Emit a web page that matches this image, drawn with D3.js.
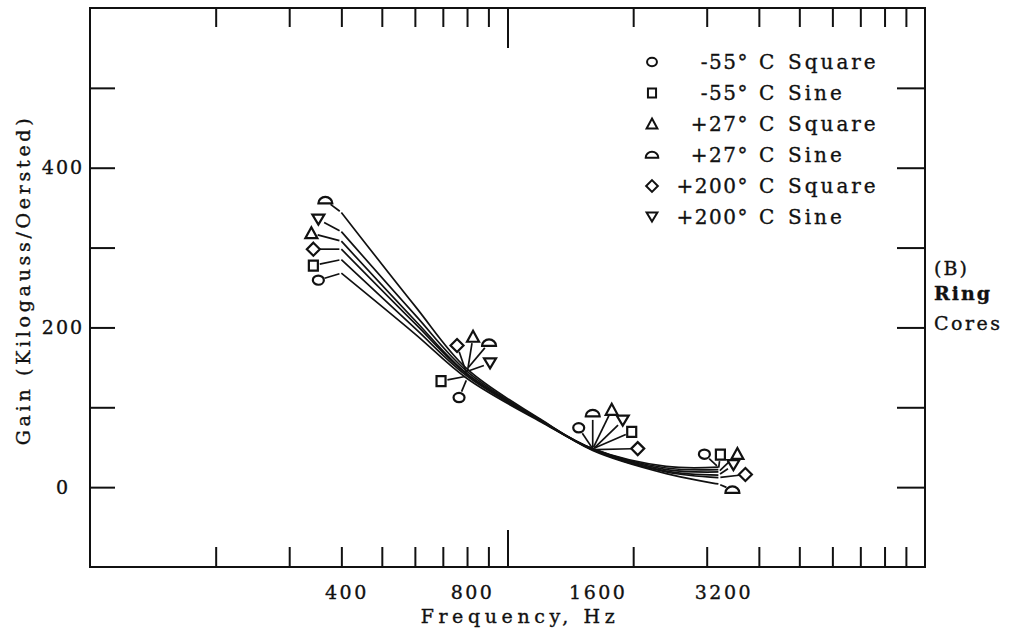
<!DOCTYPE html>
<html>
<head>
<meta charset="utf-8">
<script src="https://cdn.jsdelivr.net/npm/d3@7"></script>
<style>
  body { margin: 0; background: #fff; }
  svg { display: block; }
  text { font-family: "DejaVu Serif", "Liberation Serif", serif; fill: #111; stroke: #111; stroke-width: 0.35px; }
</style>
</head>
<body>
<svg id="chart" width="1024" height="635"></svg>
<script>
// ---------------- data ----------------
const frequencies = [400, 600, 800, 1200, 1600, 2400, 3200];
const flagFrequencies = [400, 800, 1600, 3200];

const seriesNames = ["-55° C Square", "-55° C Sine", "+27° C Square", "+27° C Sine", "+200° C Square", "+200° C Sine"];
const legendTemps = ["-55°", "-55°", "+27°", "+27°", "+200°", "+200°"];
const legendKinds = ["Square", "Sine", "Square", "Sine", "Square", "Sine"];
const seriesSymbols = ["circle", "square", "triUp", "dome", "diamond", "triDown"];

const gainM55Square  = [268, 192, 136, 82, 48, 26, 25];
const gainM55Sine    = [285, 199, 139, 83, 48, 24, 22];
const gainP27Square  = [308, 209, 142, 84, 48, 22, 19];
const gainP27Sine    = [344, 227, 148, 85, 46, 17, 4];
const gainP200Square = [298, 205, 141, 83, 47, 19, 12];
const gainP200Sine   = [320, 216, 145, 84, 47, 20, 15];
const seriesValues = [gainM55Square, gainM55Sine, gainP27Square, gainP27Sine, gainP200Square, gainP200Sine];

const xLabelTicks = [400, 800, 1600, 3200];
const xMinorTicks = [200, 300, 400, 500, 600, 700, 800, 900, 2000, 3000, 4000, 5000, 6000, 7000, 8000, 9000];
const xMajorTicks = [1000];
const yTicks = [0, 100, 200, 300, 400, 500];
const yLabelTicks = [0, 200, 400];

// ---------------- layout (pixel offsets of the flag symbols, not data) ----------------
// per series, per flag frequency: [dx, dy]
const flagOffsets = [
  [[-23, 7], [-8, 19], [-14, -21], [-14, -13]],   // -55 Square
  [[-28, 6], [-26, 5], [39, -17], [2, -15]],      // -55 Sine
  [[-30, -8], [6, -37], [19, -39], [19, -18]],    // +27 Square
  [[-16, -12], [22, -26], [0, -37], [14, 6]],     // +27 Sine
  [[-28, 0], [-10, -29], [45, -1], [27, -3]],     // +200 Square
  [[-23, -12], [23, -8], [30, -29], [15, -10]]    // +200 Sine
];

const margin = { left: 90, right: 925, top: 8, bottom: 567 };
const svg = d3.select("#chart");

const x = d3.scaleLog().domain([100, 10000]).range([margin.left, margin.right]);
const y = d3.scaleLinear().domain([-100, 600]).range([margin.bottom, margin.top]);

// ---------------- symbols ----------------
function symbolPath(kind, s) {
  s = s || 1;
  switch (kind) {
    case "circle": return `M${-5.5*s},0 A${5.5*s},${4.6*s} 0 1 0 ${5.5*s},0 A${5.5*s},${4.6*s} 0 1 0 ${-5.5*s},0 Z`;
    case "square": return `M${-4.5*s},${-5*s} H${4.5*s} V${5*s} H${-4.5*s} Z`;
    case "triUp": return `M0,${-6*s} L${6*s},${5*s} L${-6*s},${5*s} Z`;
    case "triDown": return `M0,${5*s} L${6*s},${-5*s} L${-6*s},${-5*s} Z`;
    case "diamond": return `M0,${-6.5*s} L${6.5*s},0 L0,${6.5*s} L${-6.5*s},0 Z`;
    case "dome": return `M${-7*s},${3*s} A${7*s},${6.5*s} 0 0 1 ${7*s},${3*s} Z`;
  }
}

// ---------------- frame ----------------
svg.append("rect")
  .attr("x", margin.left).attr("y", margin.top)
  .attr("width", margin.right - margin.left).attr("height", margin.bottom - margin.top)
  .attr("fill", "none").attr("stroke", "#111").attr("stroke-width", 2);

function styleAxis(g) {
  g.select(".domain").remove();
  g.selectAll(".tick line").attr("stroke", "#111").attr("stroke-width", 2);
}

// bottom inward ticks
svg.append("g").attr("transform", `translate(0,${margin.bottom})`)
  .call(d3.axisTop(x).tickValues(xMinorTicks).tickSize(20).tickFormat(""))
  .call(styleAxis);
svg.append("g").attr("transform", `translate(0,${margin.bottom})`)
  .call(d3.axisTop(x).tickValues(xMajorTicks).tickSize(37).tickFormat(""))
  .call(styleAxis);
// top inward ticks
svg.append("g").attr("transform", `translate(0,${margin.top})`)
  .call(d3.axisBottom(x).tickValues(xMinorTicks).tickSize(19).tickFormat(""))
  .call(styleAxis);
svg.append("g").attr("transform", `translate(0,${margin.top})`)
  .call(d3.axisBottom(x).tickValues(xMajorTicks).tickSize(40).tickFormat(""))
  .call(styleAxis);
// x labels
const xl = svg.append("g").attr("transform", `translate(0,${margin.bottom})`)
  .call(d3.axisBottom(x).tickValues(xLabelTicks).tickSize(0).tickPadding(19).tickFormat(d3.format("d")))
  .call(styleAxis);
xl.selectAll("text").attr("font-size", 19).attr("letter-spacing", 2.5)
  .attr("font-family", "DejaVu Serif").attr("fill", "#111").attr("dx", 5);

// left ticks
svg.append("g").attr("transform", `translate(${margin.left},0)`)
  .call(d3.axisRight(y).tickValues(yTicks).tickSize(25).tickFormat(""))
  .call(styleAxis);
// right ticks
svg.append("g").attr("transform", `translate(${margin.right},0)`)
  .call(d3.axisLeft(y).tickValues(yTicks).tickSize(28).tickFormat(""))
  .call(styleAxis);
// y labels
svg.append("g").selectAll("text").data(yLabelTicks).join("text")
  .attr("x", 63).attr("y", d => y(d)).attr("dy", "0.35em")
  .attr("text-anchor", "middle").attr("font-size", 19).attr("letter-spacing", 2)
  .text(d => d);

// axis titles
svg.append("text").attr("x", 520).attr("y", 623).attr("text-anchor", "middle")
  .attr("font-size", 19).attr("letter-spacing", 4.6).text("Frequency, Hz");
svg.append("text").attr("transform", "translate(30,280) rotate(-90)")
  .attr("text-anchor", "middle").attr("font-size", 19).attr("letter-spacing", 3.7)
  .text("Gain (Kilogauss/Oersted)");

// right side note
const note = svg.append("g").attr("font-size", 19);
note.append("text").attr("x", 934).attr("y", 275).attr("letter-spacing", 2).text("(B)");
note.append("text").attr("x", 934).attr("y", 300).attr("letter-spacing", 2).attr("font-weight", "bold").text("Ring");
note.append("text").attr("x", 934).attr("y", 330).attr("letter-spacing", 2.5).text("Cores");

// ---------------- curves ----------------
const line = d3.line()
  .x(d => x(d.f)).y(d => y(d.v))
  .curve(d3.curveCatmullRom.alpha(0.5));

const seriesData = seriesValues.map((vals, i) => ({
  name: seriesNames[i],
  symbol: seriesSymbols[i],
  points: frequencies.map((f, j) => ({ f, v: vals[j] }))
}));

svg.append("g").selectAll("path").data(seriesData).join("path")
  .attr("d", d => line(d.points))
  .attr("fill", "none").attr("stroke", "#111").attr("stroke-width", 1.7);

// ---------------- flags (symbols with leader lines) ----------------
const flagG = svg.append("g");
seriesData.forEach((s, i) => {
  flagFrequencies.forEach((f, k) => {
    const p = s.points.find(q => q.f === f);
    const px = x(p.f), py = y(p.v);
    const [dx, dy] = flagOffsets[i][k];
    const mx = px + dx, my = py + dy;
    const len = Math.hypot(dx, dy) || 1;
    const ux = -dx / len, uy = -dy / len;
    const startR = 6.5, gap = 2;
    flagG.append("line")
      .attr("x1", mx + ux * startR).attr("y1", my + uy * startR)
      .attr("x2", px - ux * gap).attr("y2", py - uy * gap)
      .attr("stroke", "#111").attr("stroke-width", 1.7);
    flagG.append("path")
      .attr("transform", `translate(${mx},${my})`)
      .attr("d", symbolPath(s.symbol, 1))
      .attr("fill", "#fff").attr("stroke", "#111").attr("stroke-width", 2.2);
  });
});

// ---------------- legend ----------------
const legend = svg.append("g").attr("font-size", 20);
seriesData.forEach((s, i) => {
  const ly = 62 + i * 31;
  legend.append("path").attr("transform", `translate(652,${ly})`)
    .attr("d", symbolPath(s.symbol, 0.9))
    .attr("fill", "none").attr("stroke", "#111").attr("stroke-width", 2);
  legend.append("text").attr("x", 749).attr("y", ly + 7).attr("text-anchor", "end")
    .attr("letter-spacing", 1.5).text(legendTemps[i]);
  legend.append("text").attr("x", 759).attr("y", ly + 7)
    .text("C");
  legend.append("text").attr("x", 788).attr("y", ly + 7)
    .attr("letter-spacing", 3).text(legendKinds[i]);
});
</script>
</body>
</html>
